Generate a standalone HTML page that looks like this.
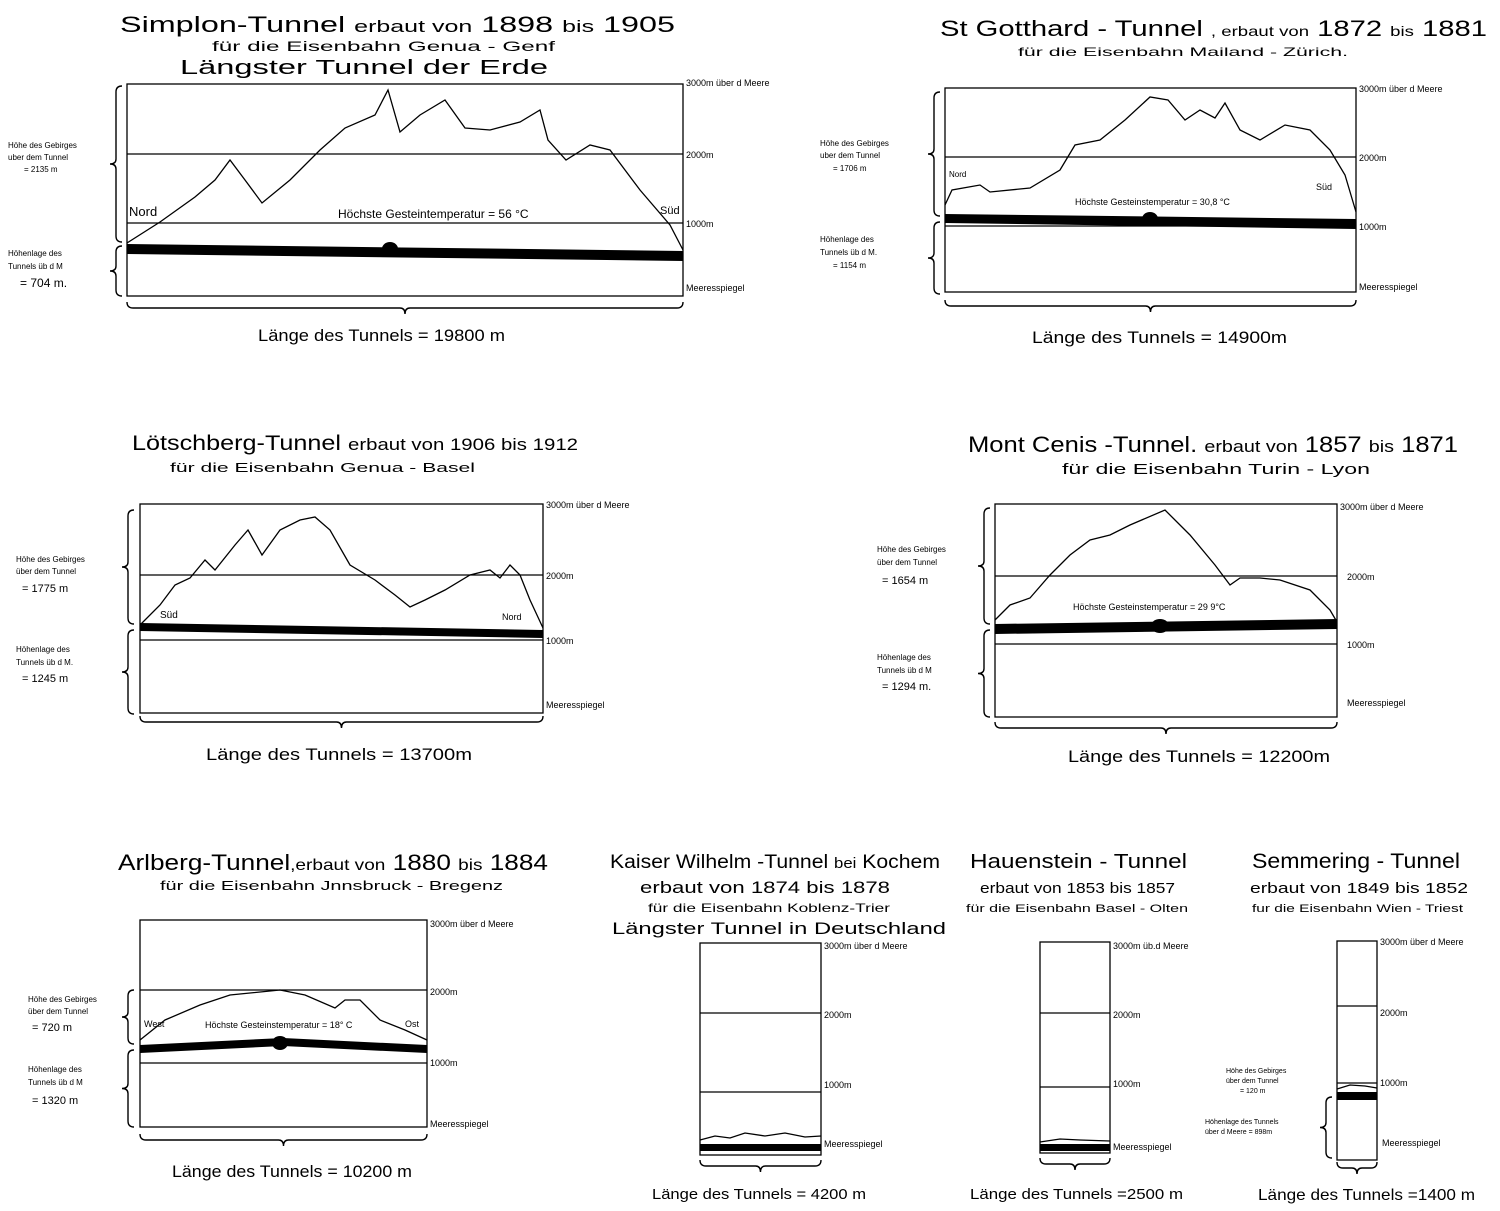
<!DOCTYPE html>
<html><head><meta charset="utf-8"><style>
body{margin:0;background:#fff}
svg{display:block}
text{font-family:"Liberation Sans",sans-serif;fill:#000}
.s{font-size:9px}
.t{font-size:22px}
.b{font-size:17px}
.l{font-size:17px}
</style></head><body>
<svg id="g" width="1500" height="1211" viewBox="0 0 1500 1211" xmlns="http://www.w3.org/2000/svg">
<g fill="none" stroke="#000" stroke-width="1.3">
<rect x="127" y="84" width="556" height="212"/>
<line x1="127" y1="154" x2="683" y2="154"/><line x1="127" y1="223" x2="683" y2="223"/>
<polyline points="127,243 160,222 195,197 215,180 230,160 245,180 262,203 290,180 320,150 345,128 375,115 388,90 400,132 420,115 445,100 465,128 490,130 520,122 540,110 548,140 566,160 590,145 610,150 640,190 670,225 683,250"/>
<rect x="945" y="88" width="411" height="204"/>
<line x1="945" y1="157" x2="1356" y2="157"/><line x1="945" y1="226" x2="1356" y2="226"/>
<polyline points="945,205 952,190 980,185 990,192 1030,188 1060,170 1075,145 1100,140 1125,120 1150,97 1168,100 1185,120 1200,110 1215,118 1225,103 1240,130 1260,140 1285,125 1310,130 1330,150 1345,175 1356,212"/>
<rect x="140" y="504" width="403" height="209"/>
<line x1="140" y1="575" x2="543" y2="575"/><line x1="140" y1="640" x2="543" y2="640"/>
<polyline points="140,625 160,605 175,585 190,578 205,560 215,570 235,545 248,530 262,555 280,530 300,520 315,517 330,530 350,565 375,580 395,595 410,607 425,600 445,590 470,575 490,570 500,578 510,565 520,575 530,600 543,628"/>
<rect x="995" y="504" width="342" height="213"/>
<line x1="995" y1="576" x2="1337" y2="576"/><line x1="995" y1="644" x2="1337" y2="644"/>
<polyline points="995,620 1010,605 1030,598 1050,575 1070,555 1090,540 1110,535 1130,525 1165,510 1190,535 1215,565 1230,585 1240,578 1260,578 1280,580 1310,590 1330,610 1337,622"/>
<rect x="140" y="920" width="287" height="207"/>
<line x1="140" y1="990" x2="427" y2="990"/><line x1="140" y1="1063" x2="427" y2="1063"/>
<polyline points="140,1040 165,1020 200,1005 230,995 280,990 305,995 335,1008 345,1000 360,1000 380,1020 405,1030 427,1040"/>
<rect x="700" y="943" width="121" height="212"/>
<line x1="700" y1="1013" x2="821" y2="1013"/><line x1="700" y1="1092" x2="821" y2="1092"/>
<polyline points="700,1140 715,1136 730,1138 745,1133 765,1136 785,1133 805,1137 821,1136"/>
<rect x="1040" y="942" width="70" height="211"/>
<line x1="1040" y1="1013" x2="1110" y2="1013"/><line x1="1040" y1="1087" x2="1110" y2="1087"/>
<polyline points="1040,1142 1060,1139 1080,1140 1110,1141"/>
<rect x="1337" y="941" width="40" height="219"/>
<line x1="1337" y1="1006" x2="1377" y2="1006"/><line x1="1337" y1="1083" x2="1377" y2="1083"/>
<polyline points="1337,1089 1350,1085 1365,1086 1377,1088"/>
</g>
<g fill="#000">
<polygon points="127,244 683,251 683,261 127,254"/>
<polygon points="945,214 1356,219 1356,229 945,223"/>
<polygon points="140,623 543,630 543,638 140,631"/>
<polygon points="995,624 1337,619 1337,629 995,634"/>
<polygon points="140,1045 283,1038 427,1045 427,1053 283,1046 140,1053"/>
<rect x="700" y="1144" width="121" height="7"/>
<rect x="1040" y="1144" width="70" height="7"/>
<rect x="1337" y="1092" width="40" height="8"/>
<ellipse cx="390" cy="249" rx="8" ry="7"/><ellipse cx="1150" cy="219" rx="8" ry="7"/>
<ellipse cx="1160" cy="626" rx="9" ry="7"/><ellipse cx="280" cy="1043" rx="8" ry="7"/>
</g>
<g id="br" fill="none" stroke="#000" stroke-width="1.4"></g>

<g lengthAdjust="spacingAndGlyphs">
<text x="120" y="32" class="t" textLength="555" lengthAdjust="spacingAndGlyphs">Simplon-Tunnel <tspan class="b">erbaut von</tspan> 1898 <tspan class="b">bis</tspan> 1905</text>
<text x="212" y="51" style="font-size:14px" textLength="343" lengthAdjust="spacingAndGlyphs">für die Eisenbahn  Genua - Genf</text>
<text x="180" y="74" style="font-size:20px" textLength="368" lengthAdjust="spacingAndGlyphs">Längster Tunnel der Erde</text>
<text x="940" y="36" class="t" textLength="547" lengthAdjust="spacingAndGlyphs">St  Gotthard - Tunnel <tspan style="font-size:14px">, erbaut von</tspan> 1872 <tspan style="font-size:14px">bis</tspan> 1881</text>
<text x="1018" y="56" style="font-size:12px" textLength="330" lengthAdjust="spacingAndGlyphs">für die Eisenbahn  Mailand - Zürich.</text>
<text x="132" y="450" style="font-size:21px" textLength="446" lengthAdjust="spacingAndGlyphs">Lötschberg-Tunnel <tspan class="b">erbaut von 1906 bis 1912</tspan></text>
<text x="170" y="472" style="font-size:13px" textLength="305" lengthAdjust="spacingAndGlyphs">für  die  Eisenbahn  Genua  -  Basel</text>
<text x="968" y="452" class="t" textLength="490" lengthAdjust="spacingAndGlyphs">Mont Cenis -Tunnel. <tspan class="b">erbaut von</tspan> 1857 <tspan class="b">bis</tspan> 1871</text>
<text x="1062" y="474" style="font-size:15px" textLength="308" lengthAdjust="spacingAndGlyphs">für die Eisenbahn Turin - Lyon</text>
<text x="118" y="870" class="t" textLength="430" lengthAdjust="spacingAndGlyphs">Arlberg-Tunnel<tspan style="font-size:16px">,erbaut von</tspan> 1880 <tspan style="font-size:16px">bis</tspan> 1884</text>
<text x="160" y="890" style="font-size:13px" textLength="343" lengthAdjust="spacingAndGlyphs">für die Eisenbahn Jnnsbruck - Bregenz</text>
<text x="610" y="868" style="font-size:19px" textLength="330" lengthAdjust="spacingAndGlyphs">Kaiser Wilhelm -Tunnel <tspan style="font-size:15px">bei</tspan> Kochem</text>
<text x="640" y="893" style="font-size:17px" textLength="250" lengthAdjust="spacingAndGlyphs">erbaut von  1874  bis  1878</text>
<text x="648" y="912" style="font-size:12px" textLength="242" lengthAdjust="spacingAndGlyphs">für die Eisenbahn Koblenz-Trier</text>
<text x="612" y="934" style="font-size:17px" textLength="334" lengthAdjust="spacingAndGlyphs">Längster Tunnel in Deutschland</text>
<text x="970" y="868" style="font-size:20px" textLength="217" lengthAdjust="spacingAndGlyphs">Hauenstein - Tunnel</text>
<text x="980" y="893" style="font-size:15px" textLength="195" lengthAdjust="spacingAndGlyphs">erbaut von 1853 bis 1857</text>
<text x="966" y="912" style="font-size:11px" textLength="222" lengthAdjust="spacingAndGlyphs">für die Eisenbahn Basel - Olten</text>
<text x="1252" y="868" style="font-size:21px" textLength="208" lengthAdjust="spacingAndGlyphs">Semmering - Tunnel</text>
<text x="1250" y="893" style="font-size:15px" textLength="218" lengthAdjust="spacingAndGlyphs">erbaut von 1849 bis 1852</text>
<text x="1252" y="912" style="font-size:11px" textLength="211" lengthAdjust="spacingAndGlyphs">fur die Eisenbahn Wien - Triest</text>

<text x="258" y="341" class="l" textLength="247" lengthAdjust="spacingAndGlyphs">Länge des Tunnels = 19800 m</text>
<text x="1032" y="343" class="l" textLength="255" lengthAdjust="spacingAndGlyphs">Länge des Tunnels = 14900m</text>
<text x="206" y="760" class="l" textLength="266" lengthAdjust="spacingAndGlyphs">Länge des Tunnels = 13700m</text>
<text x="1068" y="762" class="l" textLength="262" lengthAdjust="spacingAndGlyphs">Länge des Tunnels = 12200m</text>
<text x="172" y="1177" class="l" textLength="240" lengthAdjust="spacingAndGlyphs">Länge des Tunnels = 10200 m</text>
<text x="652" y="1199" style="font-size:15px" textLength="214" lengthAdjust="spacingAndGlyphs">Länge des Tunnels = 4200 m</text>
<text x="970" y="1199" style="font-size:15px" textLength="213" lengthAdjust="spacingAndGlyphs">Länge des Tunnels =2500 m</text>
<text x="1258" y="1200" style="font-size:16px" textLength="217" lengthAdjust="spacingAndGlyphs">Länge des Tunnels =1400 m</text>
</g>

<g class="s">
<text x="686" y="86">3000m über d Meere</text><text x="686" y="158">2000m</text><text x="686" y="227">1000m</text><text x="686" y="291">Meeresspiegel</text>
<text x="1359" y="92">3000m über d Meere</text><text x="1359" y="161">2000m</text><text x="1359" y="230">1000m</text><text x="1359" y="290">Meeresspiegel</text>
<text x="546" y="508">3000m über d Meere</text><text x="546" y="579">2000m</text><text x="546" y="644">1000m</text><text x="546" y="708">Meeresspiegel</text>
<text x="1340" y="510">3000m über d Meere</text><text x="1347" y="580">2000m</text><text x="1347" y="648">1000m</text><text x="1347" y="706">Meeresspiegel</text>
<text x="430" y="927">3000m über d Meere</text><text x="430" y="995">2000m</text><text x="430" y="1066">1000m</text><text x="430" y="1127">Meeresspiegel</text>
<text x="824" y="949">3000m über d Meere</text><text x="824" y="1018">2000m</text><text x="824" y="1088">1000m</text><text x="824" y="1147">Meeresspiegel</text>
<text x="1113" y="949">3000m üb.d Meere</text><text x="1113" y="1018">2000m</text><text x="1113" y="1087">1000m</text><text x="1113" y="1150">Meeresspiegel</text>
<text x="1380" y="945">3000m über d Meere</text><text x="1380" y="1016">2000m</text><text x="1380" y="1086">1000m</text><text x="1382" y="1146">Meeresspiegel</text>
</g>
<g style="font-size:8px">
<text x="8" y="148">Höhe des Gebirges</text><text x="8" y="160">uber dem Tunnel</text><text x="24" y="172">= 2135 m</text>
<text x="8" y="256">Höhenlage des</text><text x="8" y="269">Tunnels üb d M</text><text x="20" y="287" style="font-size:12px">= 704 m.</text>
<text x="820" y="146">Höhe des Gebirges</text><text x="820" y="158">uber dem Tunnel</text><text x="833" y="171">= 1706 m</text>
<text x="820" y="242">Höhenlage des</text><text x="820" y="255">Tunnels üb d M.</text><text x="833" y="268">= 1154 m</text>
<text x="16" y="562">Höhe des Gebirges</text><text x="16" y="574">über dem Tunnel</text><text x="22" y="592" style="font-size:11px">= 1775 m</text>
<text x="16" y="652">Höhenlage des</text><text x="16" y="665">Tunnels üb d M.</text><text x="22" y="682" style="font-size:11px">= 1245 m</text>
<text x="877" y="552">Höhe des Gebirges</text><text x="877" y="565">über dem Tunnel</text><text x="882" y="584" style="font-size:11px">= 1654 m</text>
<text x="877" y="660">Höhenlage des</text><text x="877" y="673">Tunnels üb d M</text><text x="882" y="690" style="font-size:11px">= 1294 m.</text>
<text x="28" y="1002">Höhe des Gebirges</text><text x="28" y="1014">über dem Tunnel</text><text x="32" y="1031" style="font-size:11px">= 720 m</text>
<text x="28" y="1072">Höhenlage des</text><text x="28" y="1085">Tunnels üb d M</text><text x="32" y="1104" style="font-size:11px">= 1320 m</text>
<text x="1226" y="1073" style="font-size:7px">Höhe des Gebirges</text><text x="1226" y="1083" style="font-size:7px">über dem Tunnel</text><text x="1240" y="1093" style="font-size:7px">= 120 m</text>
<text x="1205" y="1124" style="font-size:7px">Höhenlage des Tunnels</text><text x="1205" y="1134" style="font-size:7px">über d Meere = 898m</text>
</g>
<g style="font-size:11px">
<text x="129" y="216" style="font-size:13px">Nord</text><text x="660" y="214">Süd</text>
<text x="338" y="218" style="font-size:12px">Höchste Gesteintemperatur = 56 °C</text>
<text x="949" y="177" style="font-size:8px">Nord</text><text x="1316" y="190" style="font-size:9px">Süd</text>
<text x="1075" y="205" style="font-size:9px">Höchste Gesteinstemperatur = 30,8 °C</text>
<text x="160" y="618" style="font-size:10px">Süd</text><text x="502" y="620" style="font-size:9px">Nord</text>
<text x="1073" y="610" style="font-size:9px">Höchste Gesteinstemperatur = 29 9°C</text>
<text x="144" y="1027" style="font-size:9px">West</text><text x="405" y="1027" style="font-size:9px">Ost</text>
<text x="205" y="1028" style="font-size:9px">Höchste Gesteinstemperatur = 18° C</text>
</g>
</svg>
<script>
function brace(x,y1,y2,dir){
 var m=(y1+y2)/2,w=6*dir;
 return 'M'+(x)+','+y1+' q'+w+',0 '+w+',6 L'+(x+w)+','+(m-5)+' q0,5 '+w+',5 q'+(-w)+',0 '+(-w)+',5 L'+(x+w)+','+(y2-6)+' q0,6 '+(-w)+',6';
}
function hbrace(x1,x2,y){
 var m=(x1+x2)/2;
 return 'M'+x1+','+y+' q0,6 6,6 L'+(m-5)+','+(y+6)+' q5,0 5,6 q0,-6 5,-6 L'+(x2-6)+','+(y+6)+' q6,0 6,-6';
}
var d=[brace(122,86,242,-1),brace(122,246,296,-1),hbrace(127,683,302),
brace(940,92,216,-1),brace(940,222,294,-1),hbrace(945,1356,300),
brace(134,510,624,-1),brace(134,630,714,-1),hbrace(140,543,716),
brace(990,508,624,-1),brace(990,630,717,-1),hbrace(995,1337,722),
brace(134,990,1044,-1),brace(134,1050,1127,-1),hbrace(140,427,1134),
hbrace(700,821,1160),hbrace(1040,1110,1158),hbrace(1337,1377,1162),brace(1332,1097,1158,-1)];
var g=document.getElementById('br');
d.forEach(function(p){var e=document.createElementNS('http://www.w3.org/2000/svg','path');e.setAttribute('d',p);g.appendChild(e);});
</script>
</body></html>
